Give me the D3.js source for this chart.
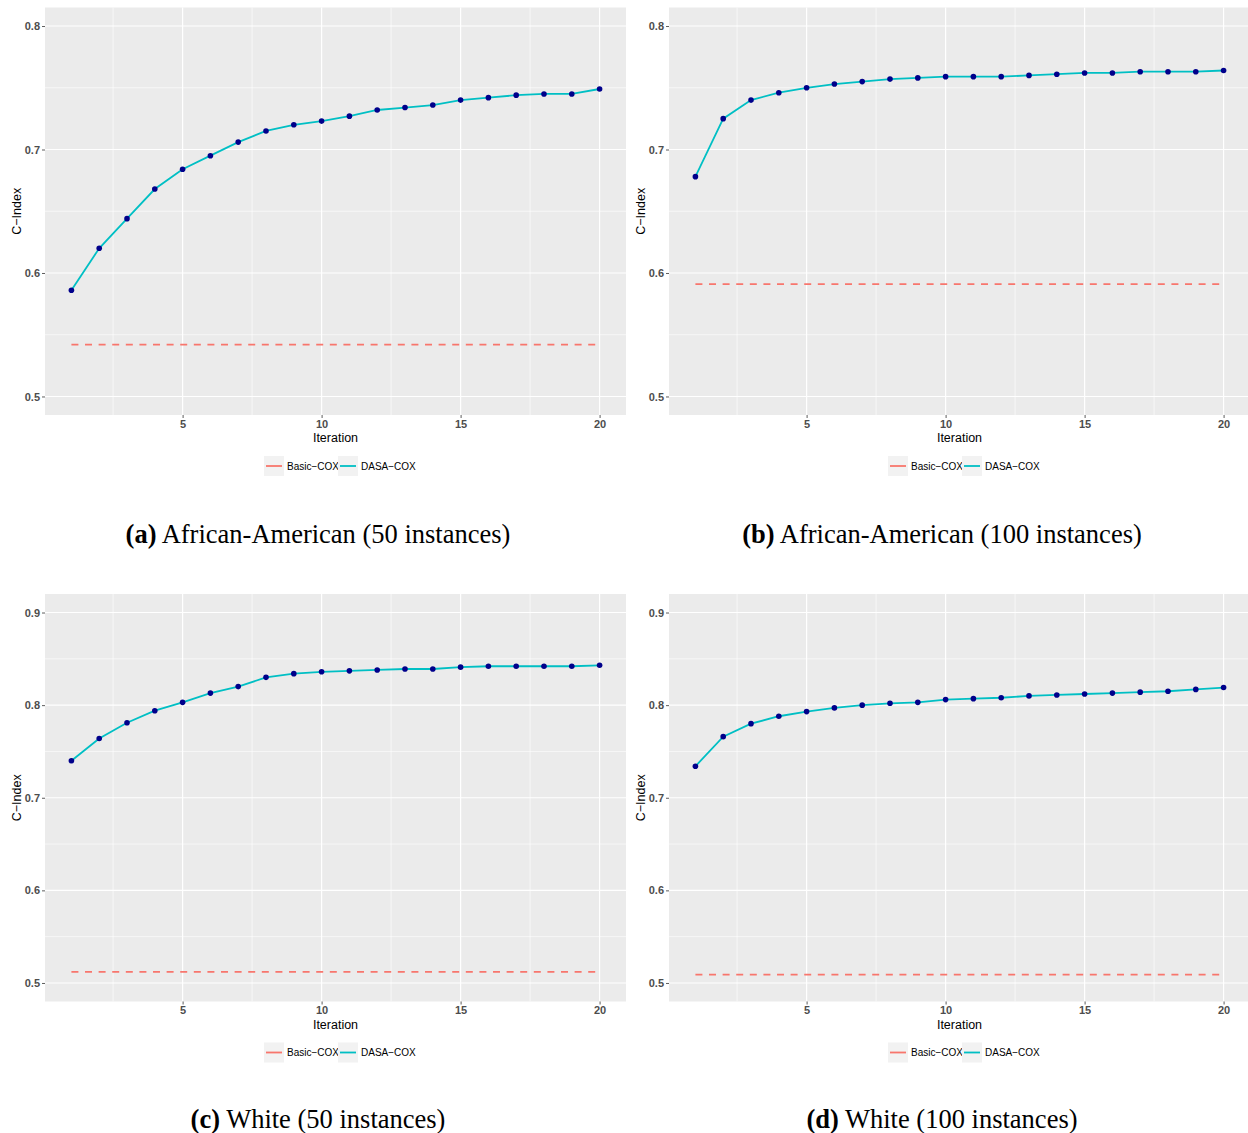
<!DOCTYPE html>
<html>
<head>
<meta charset="utf-8">
<script src="https://cdnjs.cloudflare.com/ajax/libs/d3/7.8.5/d3.min.js"></script>
<style>
  body { margin: 0; background: #fff; }
</style>
</head>
<body>
<script>

// data
var iterations = [1, 2, 3, 4, 5, 6, 7, 8, 9, 10, 11, 12, 13, 14, 15, 16, 17, 18, 19, 20];
var xTicks = [5, 10, 15, 20];
var yTicksTop = [0.5, 0.6, 0.7, 0.8];
var yTicksBottom = [0.5, 0.6, 0.7, 0.8, 0.9];
var seriesNames = ["Basic\u2212COX", "DASA\u2212COX"];

var dasaAA50 = [0.586, 0.620, 0.644, 0.668, 0.684, 0.695, 0.706, 0.715, 0.720, 0.723,
                0.727, 0.732, 0.734, 0.736, 0.740, 0.742, 0.744, 0.745, 0.745, 0.749];
var basicAA50 = 0.542;

var dasaAA100 = [0.678, 0.725, 0.740, 0.746, 0.750, 0.753, 0.755, 0.757, 0.758, 0.759,
                 0.759, 0.759, 0.760, 0.761, 0.762, 0.762, 0.763, 0.763, 0.763, 0.764];
var basicAA100 = 0.591;

var dasaW50 = [0.740, 0.764, 0.781, 0.794, 0.803, 0.813, 0.820, 0.830, 0.834, 0.836,
               0.837, 0.838, 0.839, 0.839, 0.841, 0.842, 0.842, 0.842, 0.842, 0.843];
var basicW50 = 0.512;

var dasaW100 = [0.734, 0.766, 0.780, 0.788, 0.793, 0.797, 0.800, 0.802, 0.803, 0.806,
                0.807, 0.808, 0.810, 0.811, 0.812, 0.813, 0.814, 0.815, 0.817, 0.819];
var basicW100 = 0.509;

var captionTags = ["(a)", "(b)", "(c)", "(d)"];
var captionTexts = [" African-American (50 instances)", " African-American (100 instances)",
                    " White (50 instances)", " White (100 instances)"];

var W = 1248, H = 1133;
var svg = d3.select("body").append("svg")
    .attr("width", W)
    .attr("height", H);

var panels = [
  { dasa: dasaAA50,  basic: basicAA50,  ylim: [0.5, 0.8], yTicks: yTicksTop,    left: 45,  top: 7.5 },
  { dasa: dasaAA100, basic: basicAA100, ylim: [0.5, 0.8], yTicks: yTicksTop,    left: 669, top: 7.5 },
  { dasa: dasaW50,   basic: basicW50,   ylim: [0.5, 0.9], yTicks: yTicksBottom, left: 45,  top: 594 },
  { dasa: dasaW100,  basic: basicW100,  ylim: [0.5, 0.9], yTicks: yTicksBottom, left: 669, top: 594 }
];
var pw = 581, ph = 407.5;
var captionX = [318, 942, 318, 942];
var captionY = [543, 543, 1128, 1128];

panels.forEach(function(p, i) {
  var g = svg.append("g");
  var xPad = (20 - 1) * 0.05;
  var yPad = (p.ylim[1] - p.ylim[0]) * 0.05;
  var x = d3.scaleLinear().domain([1 - xPad, 20 + xPad]).range([p.left, p.left + pw]);
  var y = d3.scaleLinear().domain([p.ylim[0] - yPad, p.ylim[1] + yPad]).range([p.top + ph, p.top]);

  // panel background
  g.append("rect")
    .attr("x", p.left).attr("y", p.top)
    .attr("width", pw).attr("height", ph)
    .attr("fill", "#EBEBEB");

  // minor grid
  var xMinor = [2.5, 7.5, 12.5, 17.5];
  var yMinor = p.yTicks.slice(0, -1).map(function(t) { return t + 0.05; });
  g.selectAll(".xminor").data(xMinor).enter().append("line")
    .attr("x1", function(d) { return x(d); }).attr("x2", function(d) { return x(d); })
    .attr("y1", p.top).attr("y2", p.top + ph)
    .attr("stroke", "#fff").attr("stroke-width", 0.6);
  g.selectAll(".yminor").data(yMinor).enter().append("line")
    .attr("y1", function(d) { return y(d); }).attr("y2", function(d) { return y(d); })
    .attr("x1", p.left).attr("x2", p.left + pw)
    .attr("stroke", "#fff").attr("stroke-width", 0.6);

  // major grid
  g.selectAll(".xmajor").data(xTicks).enter().append("line")
    .attr("x1", function(d) { return x(d); }).attr("x2", function(d) { return x(d); })
    .attr("y1", p.top).attr("y2", p.top + ph)
    .attr("stroke", "#fff").attr("stroke-width", 1.2);
  g.selectAll(".ymajor").data(p.yTicks).enter().append("line")
    .attr("y1", function(d) { return y(d); }).attr("y2", function(d) { return y(d); })
    .attr("x1", p.left).attr("x2", p.left + pw)
    .attr("stroke", "#fff").attr("stroke-width", 1.2);

  // axes
  var xAxis = d3.axisBottom(x).tickValues(xTicks).tickSize(3).tickPadding(2).tickFormat(d3.format("d"));
  var yAxis = d3.axisLeft(y).tickValues(p.yTicks).tickSize(3).tickPadding(2).tickFormat(d3.format(".1f"));

  var gx = g.append("g").attr("transform", "translate(0," + (p.top + ph) + ")").call(xAxis);
  var gy = g.append("g").attr("transform", "translate(" + p.left + ",0)").call(yAxis);
  [gx, gy].forEach(function(a) {
    a.select(".domain").remove();
    a.selectAll(".tick line").attr("stroke", "#333333").attr("stroke-width", 0.8);
    a.selectAll(".tick text")
      .attr("fill", "#4D4D4D")
      .style("font-family", "'Liberation Sans', Arial, sans-serif")
      .style("font-weight", "bold")
      .style("font-size", "11px");
  });

  // axis titles
  g.append("text")
    .attr("x", p.left + pw / 2).attr("y", p.top + ph + 27)
    .attr("text-anchor", "middle")
    .style("font-family", "'Liberation Sans', Arial, sans-serif")
    .style("font-size", "12.5px")
    .text("Iteration");
  g.append("text")
    .attr("transform", "translate(" + (p.left - 24) + "," + (p.top + ph / 2) + ") rotate(-90)")
    .attr("text-anchor", "middle")
    .style("font-family", "'Liberation Sans', Arial, sans-serif")
    .style("font-size", "12.5px")
    .text("C\u2212Index");

  // clip to panel
  var clipId = "clip" + i;
  g.append("clipPath").attr("id", clipId).append("rect")
    .attr("x", p.left).attr("y", p.top).attr("width", pw).attr("height", ph);
  var plot = g.append("g").attr("clip-path", "url(#" + clipId + ")");

  // baseline (Basic-COX)
  var basicLine = d3.line()
    .x(function(d) { return x(d); })
    .y(function() { return y(p.basic); });
  plot.append("path")
    .attr("d", basicLine(iterations))
    .attr("fill", "none")
    .attr("stroke", "#F8766D")
    .attr("stroke-width", 1.6)
    .attr("stroke-dasharray", "7,6.6");

  // DASA-COX
  var dasaLine = d3.line()
    .x(function(d, k) { return x(iterations[k]); })
    .y(function(d) { return y(d); });
  plot.append("path")
    .attr("d", dasaLine(p.dasa))
    .attr("fill", "none")
    .attr("stroke", "#00BFC4")
    .attr("stroke-width", 1.8);
  plot.selectAll(".pt").data(p.dasa).enter().append("circle")
    .attr("cx", function(d, k) { return x(iterations[k]); })
    .attr("cy", function(d) { return y(d); })
    .attr("r", 2.8)
    .attr("fill", "#00008B");

  // legend
  var legColors = ["#F8766D", "#00BFC4"];
  var legX = [p.left + 219, p.left + 293];
  var legY = p.top + ph + 41;
  seriesNames.forEach(function(name, k) {
    g.append("rect")
      .attr("x", legX[k]).attr("y", legY)
      .attr("width", 20).attr("height", 20)
      .attr("fill", "#F2F2F2");
    g.append("line")
      .attr("x1", legX[k] + 2).attr("x2", legX[k] + 18)
      .attr("y1", legY + 10).attr("y2", legY + 10)
      .attr("stroke", legColors[k]).attr("stroke-width", 1.8);
    g.append("text")
      .attr("x", legX[k] + 23).attr("y", legY + 13.5)
      .style("font-family", "'Liberation Sans', Arial, sans-serif")
      .style("font-size", "10px")
      .text(name);
  });

  // caption
  var cap = svg.append("text")
    .attr("x", captionX[i]).attr("y", captionY[i])
    .attr("text-anchor", "middle")
    .style("font-family", "'Liberation Serif', 'Times New Roman', serif")
    .style("font-size", "26.5px");
  cap.append("tspan").style("font-weight", "bold").text(captionTags[i]);
  cap.append("tspan").text(captionTexts[i]);
});

</script>
</body>
</html>
